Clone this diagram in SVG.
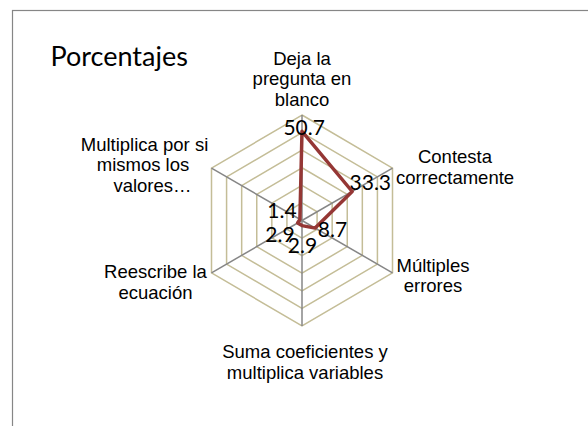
<svg xmlns="http://www.w3.org/2000/svg" width="588" height="426" viewBox="0 0 588 426">
<style>
.frame{fill:#fff;stroke:#868686;stroke-width:1.2}
.grid{fill:none;stroke:#c4bd97;stroke-width:1.5}
.axis{stroke:#868686;stroke-width:1.5}
.data{fill:none;stroke:#953735;stroke-width:3.5;stroke-linejoin:round}
.cat{font-family:"Liberation Sans",Arial,sans-serif;font-size:18.5px;fill:#000;text-anchor:middle}
.val{font-family:Lato,"Liberation Sans",sans-serif;font-size:21px;fill:#000;text-anchor:middle}
.title{font-family:Lato,"Liberation Sans",sans-serif;font-size:27px;fill:#000}
</style>
<rect class="frame" x="12.5" y="10.5" width="600" height="440"/>
<text class="title" x="50.5" y="66">Porcentajes</text>
<g id="grid">
<polygon class="grid" points="302,202.92 317.08,211.78 317.08,229.22 302,238.08 286.92,229.22 286.92,211.78"/>
<polygon class="grid" points="302,185.33 332.17,203.07 332.17,237.93 302,255.67 271.83,237.93 271.83,203.07"/>
<polygon class="grid" points="302,167.75 347.25,194.35 347.25,246.65 302,273.25 256.75,246.65 256.75,194.35"/>
<polygon class="grid" points="302,150.17 362.33,185.63 362.33,255.37 302,290.83 241.67,255.37 241.67,185.63"/>
<polygon class="grid" points="302,132.58 377.42,176.92 377.42,264.08 302,308.42 226.58,264.08 226.58,176.92"/>
<polygon class="grid" points="302,115 392.5,168.2 392.5,272.8 302,326 211.5,272.8 211.5,168.2"/>
</g>
<g id="axes">
<line class="axis" x1="302" y1="220.5" x2="302" y2="115"/>
<line class="axis" x1="302" y1="220.5" x2="392.5" y2="168.2"/>
<line class="axis" x1="302" y1="220.5" x2="392.5" y2="272.8"/>
<line class="axis" x1="302" y1="220.5" x2="302" y2="326"/>
<line class="axis" x1="302" y1="220.5" x2="211.5" y2="272.8"/>
<line class="axis" x1="302" y1="220.5" x2="211.5" y2="168.2"/>
</g>
<g id="series">
<polygon class="data" points="302,131.35 352.2,191.5 315.1,228.1 302,225.6 297.6,223 299.9,219.3"/>
</g>
<g id="cat-deja"><text class="cat" x="302" y="65">Deja la</text><text class="cat" x="302" y="85.3">pregunta en</text><text class="cat" x="302" y="105.6">blanco</text></g>
<g id="cat-contesta"><text class="cat" x="455" y="163.3">Contesta</text><text class="cat" x="455" y="183.6">correctamente</text></g>
<g id="cat-multiples"><text class="cat" x="433" y="271.5">Múltiples</text><text class="cat" x="433" y="291.8">errores</text></g>
<g id="cat-suma"><text class="cat" x="305" y="358.3">Suma coeficientes y</text><text class="cat" x="305" y="378.6">multiplica variables</text></g>
<g id="cat-reescribe"><text class="cat" x="155.5" y="278.3">Reescribe la</text><text class="cat" x="155.5" y="298.6">ecuación</text></g>
<g id="cat-multiplica"><text class="cat" x="144.5" y="151">Multiplica por si</text><text class="cat" x="143" y="171.3">mismos los</text><text class="cat" x="152.5" y="191.6">valores…</text></g>
<g id="labels">
<text class="val" x="304.2" y="135">50.7</text>
<text class="val" x="370.3" y="190">33.3</text>
<text class="val" x="282" y="218.3">1.4</text>
<text class="val" x="280" y="241.7">2.9</text>
<text class="val" x="302.5" y="253.3">2.9</text>
<text class="val" x="332.5" y="236.7">8.7</text>
</g>
</svg>
